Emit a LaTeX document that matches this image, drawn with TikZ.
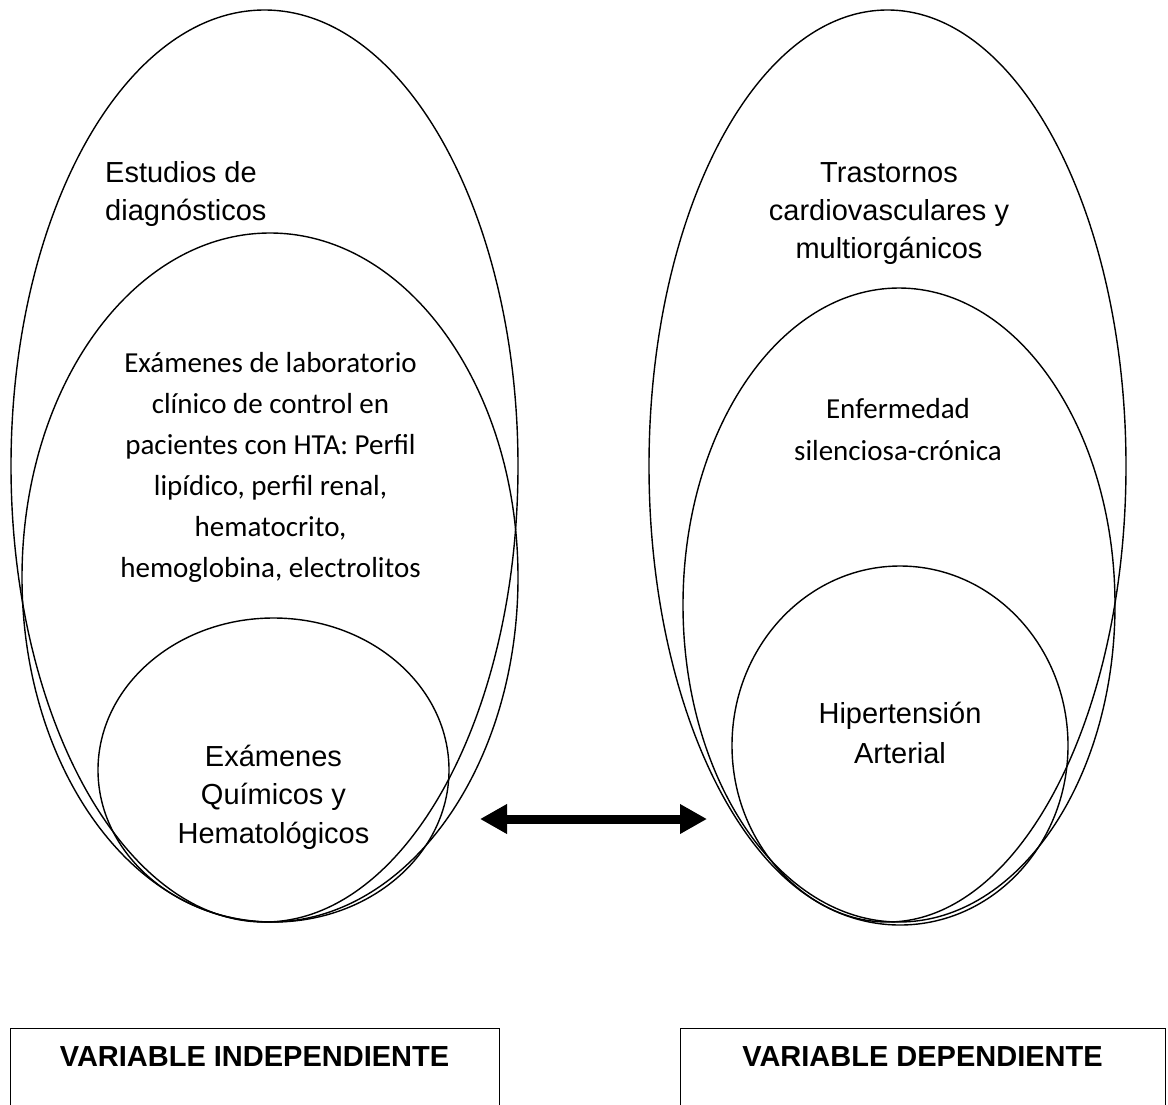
\documentclass[tikz,border=0pt]{standalone}
\usepackage{fontspec}
\setmainfont{Liberation Sans}
\newfontfamily\calibfont{Carlito}
\usetikzlibrary{shapes.geometric,arrows.meta}
\begin{document}
\begin{tikzpicture}[x=1pt,y=-1pt,
  ring/.style={draw, ellipse, inner sep=0pt, line width=1.4pt},
  txtA/.style={font=\fontsize{29}{34}\selectfont, inner sep=0pt},
  txtC/.style={font=\calibfont\fontsize{29}{34}\selectfont, inner sep=0pt},
  txtB/.style={font=\bfseries\fontsize{29}{34}\selectfont, inner sep=0pt},
  varbox/.style={draw, rectangle, inner sep=0pt, line width=1.2pt, anchor=north west},
  twoway/.style={line width=9pt, {Triangle[length=27pt,width=28pt]}-{Triangle[length=27pt,width=28pt]}}]
  \useasboundingbox (0,0) rectangle (1168,1104);
  \clip (0,0) rectangle (1168,1104);
  \fill[white] (0,0) rectangle (1168,1104);

  % independent variable: nested ellipses
  \node[ring, minimum width=507pt, minimum height=912pt] (lout) at (264.5,466) {};
  \node[ring, minimum width=496pt, minimum height=689pt] (lmid) at (270,577.5) {};
  \node[ring, minimum width=351pt, minimum height=304pt] (lin) at (273.5,770) {};

  % dependent variable: nested ellipses
  \node[ring, minimum width=477pt, minimum height=912pt] (rout) at (887.5,466) {};
  \node[ring, minimum width=432pt, minimum height=634pt] (rmid) at (899,605) {};
  \node[ring, minimum width=336pt, minimum height=359pt] (rin) at (900,745.5) {};

  % labels, left side
  \node[txtA, anchor=base west] (est1) at (105,182) {Estudios de};
  \node[txtA, anchor=base west] (est2) at (105,220) {diagnósticos};

  \node[txtC, anchor=base] (lab1) at (270.5,372) {Exámenes de laboratorio};
  \node[txtC, anchor=base] (lab2) at (270.5,413) {clínico de control en};
  \node[txtC, anchor=base] (lab3) at (270.5,454) {pacientes con HTA: Perfil};
  \node[txtC, anchor=base] (lab4) at (270.5,495) {lipídico, perfil renal,};
  \node[txtC, anchor=base] (lab5) at (270.5,536) {hematocrito,};
  \node[txtC, anchor=base] (lab6) at (270.5,577) {hemoglobina, electrolitos};

  \node[txtA, anchor=base] (qh1) at (273.5,766) {Exámenes};
  \node[txtA, anchor=base] (qh2) at (273.5,804.5) {Químicos y};
  \node[txtA, anchor=base] (qh3) at (273.5,843) {Hematológicos};

  % labels, right side
  \node[txtA, anchor=base] (tr1) at (889,182) {Trastornos};
  \node[txtA, anchor=base] (tr2) at (889,220) {cardiovasculares y};
  \node[txtA, anchor=base] (tr3) at (889,258) {multiorgánicos};

  \node[txtC, anchor=base] (enf1) at (898,418) {Enfermedad};
  \node[txtC, anchor=base] (enf2) at (898,460) {silenciosa-crónica};

  \node[txtA, anchor=base] (hta1) at (900,723) {Hipertensión};
  \node[txtA, anchor=base] (hta2) at (900,763) {Arterial};

  % two-way relation
  \coordinate (aleft) at (480,819);
  \coordinate (aright) at (707,819);
  \draw[twoway] (aleft) -- (aright);

  % variable boxes
  \node[varbox, minimum width=489pt, minimum height=100pt] (vind) at (10,1028) {};
  \node[varbox, minimum width=485pt, minimum height=100pt] (vdep) at (680,1028) {};
  \node[txtB, anchor=base] (vindt) at (254.5,1066) {VARIABLE INDEPENDIENTE};
  \node[txtB, anchor=base] (vdept) at (922.5,1066) {VARIABLE DEPENDIENTE};
\end{tikzpicture}
\end{document}
